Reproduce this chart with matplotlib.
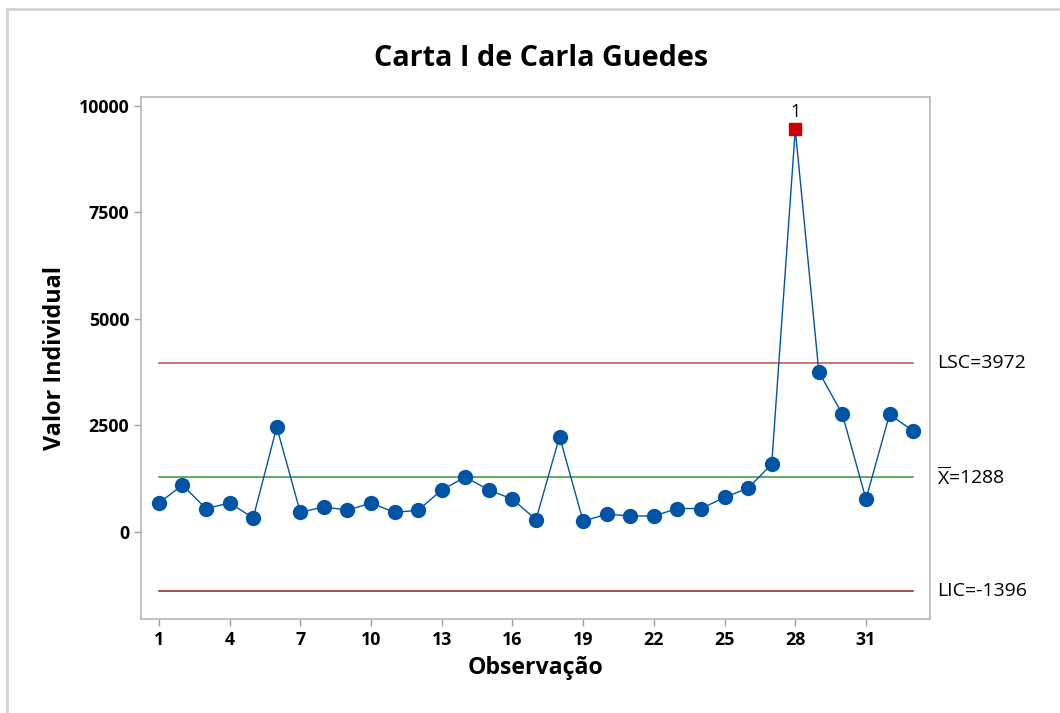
import matplotlib.pyplot as plt
from matplotlib.lines import Line2D

plt.rcParams["font.family"] = ["Open Sans", "DejaVu Sans"]
plt.rcParams["mathtext.fontset"] = "custom"
plt.rcParams["mathtext.rm"] = "Open Sans"

# values
observations = list(range(1, 34))
values = [680, 1100, 550, 680, 330, 2460, 460, 590, 510, 680, 460, 510,
          985, 1288, 985, 770, 290, 2240, 250, 420, 375, 375, 550, 550,
          810, 1030, 1590, 9450, 3760, 2760, 770, 2760, 2370]
out_of_control = [28]
ucl = 3972
mean = 1288
lcl = -1396
x_ticks = [1, 4, 7, 10, 13, 16, 19, 22, 25, 28, 31]
y_ticks = [0, 2500, 5000, 7500, 10000]

blue = "#0054a6"
red = "#cc0000"

fig = plt.figure(figsize=(10.6, 7.13), dpi=100)
ax = fig.add_axes([0.133, 0.132, 0.744, 0.732])

# control limits
ax.plot([observations[0], observations[-1]], [ucl, ucl], color="#c0504d", lw=1.1)
ax.plot([observations[0], observations[-1]], [mean, mean], color="#2e9a2e", lw=1.1)
ax.plot([observations[0], observations[-1]], [lcl, lcl], color="#8b1a1a", lw=1.1)

ax.plot(observations, values, color=blue, lw=1.0, zorder=3)
ok_x = [o for o in observations if o not in out_of_control]
ok_y = [v for o, v in zip(observations, values) if o not in out_of_control]
ax.plot(ok_x, ok_y, "o", color=blue, ms=10, zorder=4)
bad_y = [values[o - 1] for o in out_of_control]
ax.plot(out_of_control, bad_y, "s", color=red, ms=8.5, zorder=5)
for o, v in zip(out_of_control, bad_y):
    ax.annotate("1", (o, v), xytext=(0, 6), textcoords="offset points",
                ha="center", va="bottom", fontsize=13)

ax.set_xlim(0.24, 33.7)
ax.set_ylim(-2040, 10210)
ax.set_xticks(x_ticks)
ax.set_yticks(y_ticks)
ax.tick_params(axis="both", colors="#a0a0a0", length=5, width=1,
               labelcolor="black", labelsize=12.8)
for lab in ax.get_xticklabels() + ax.get_yticklabels():
    lab.set_fontweight("bold")
for sp in ax.spines.values():
    sp.set_color("#b8b8b8")
    sp.set_linewidth(1.2)

# limit labels on the right
ytr = ax.get_yaxis_transform()
ax.text(1.009, ucl, "LSC=3972", transform=ytr, va="center", ha="left", fontsize=14)
ax.text(1.009, mean, r"$\overline{\mathrm{X}}$=1288", transform=ytr,
        va="center", ha="left", fontsize=14)
ax.text(1.009, lcl, "LIC=-1396", transform=ytr, va="center", ha="left", fontsize=14)

ax.set_xlabel("Observação", fontsize=16.7, fontweight="bold", labelpad=5)
ax.set_ylabel("Valor Individual", fontsize=16.8, fontweight="bold", labelpad=8)
fig.text(0.51, 0.918, "Carta I de Carla Guedes", ha="center", va="center",
         fontsize=20.7, fontweight="bold")

# light frame on top/left like the original export
fig.add_artist(Line2D([7 / 1060, 1], [1 - 8.5 / 713] * 2,
                      transform=fig.transFigure, color="#d4d4d4", lw=2))
fig.add_artist(Line2D([7 / 1060] * 2, [0, 1 - 8.5 / 713],
                      transform=fig.transFigure, color="#d4d4d4", lw=2))

fig.savefig("out.png", dpi=100)
